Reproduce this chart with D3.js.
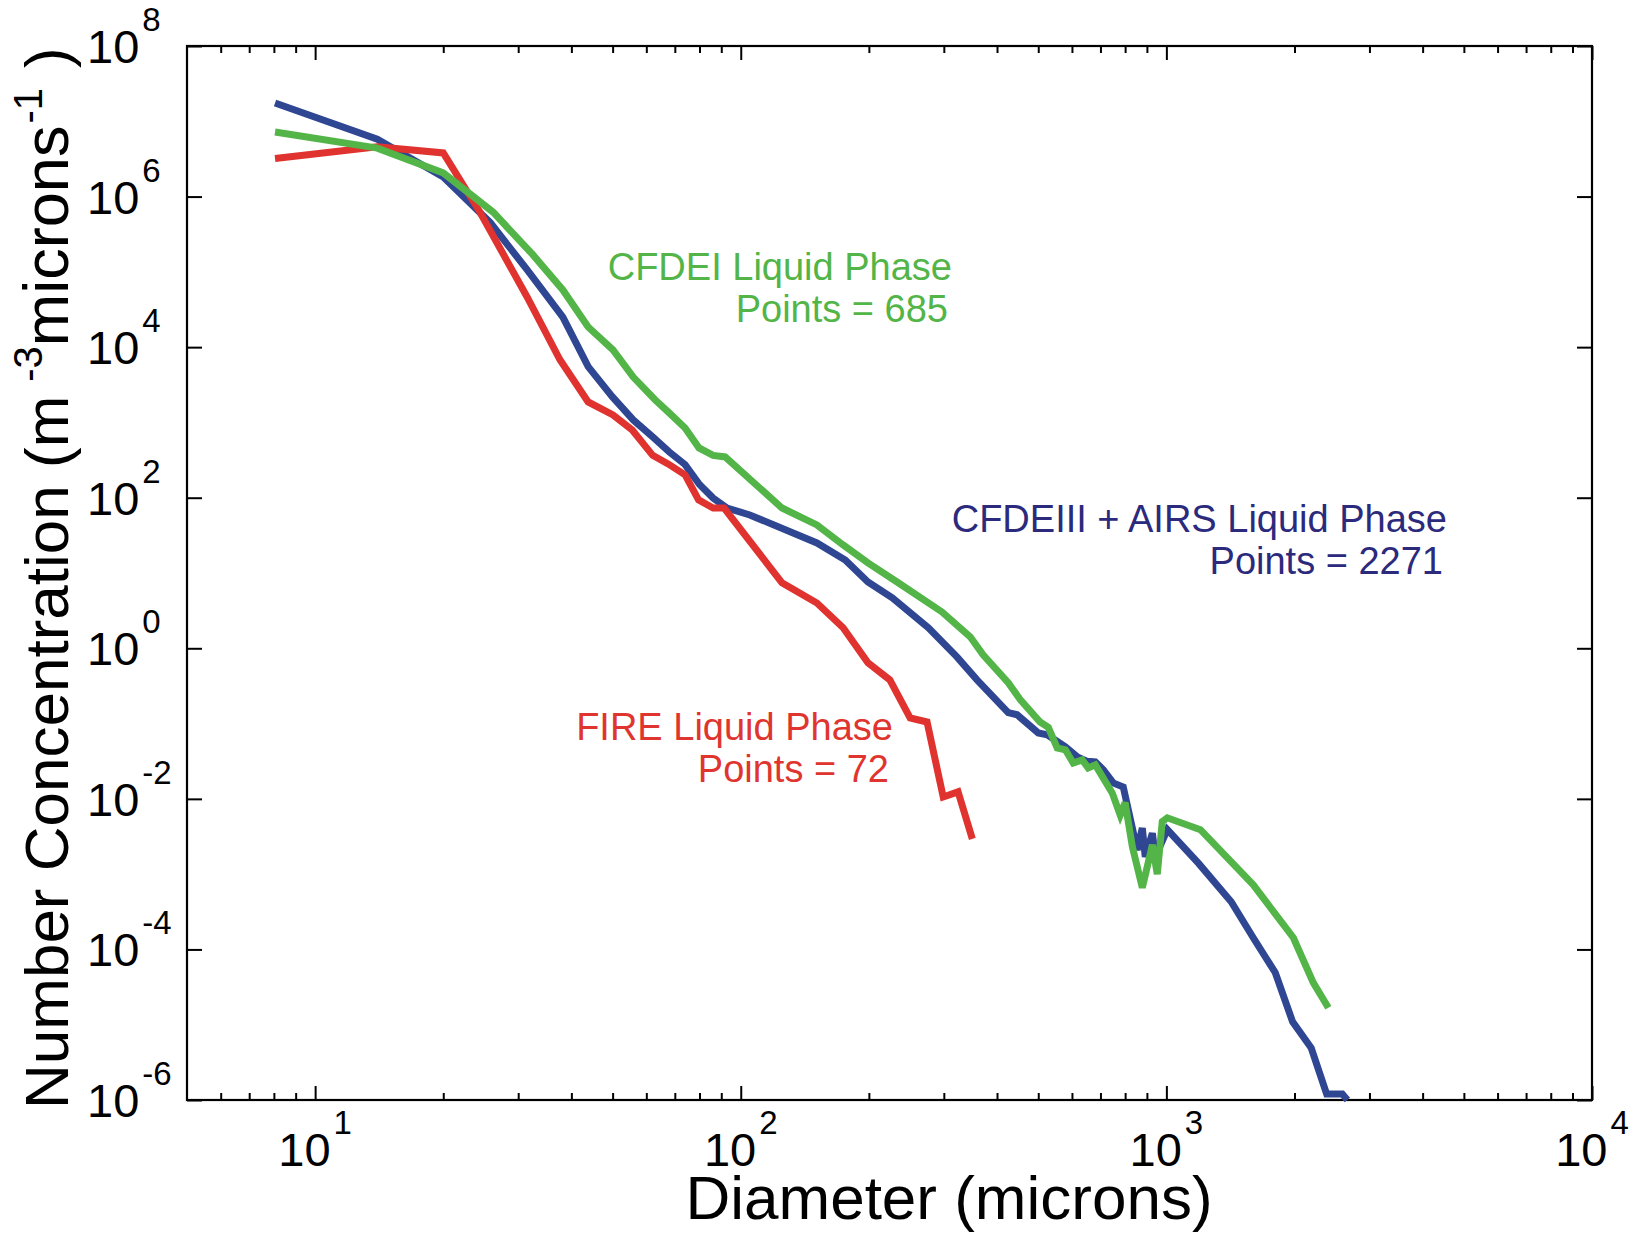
<!DOCTYPE html>
<html>
<head>
<meta charset="utf-8">
<script src="https://cdn.jsdelivr.net/npm/d3@7"></script>
<style>
    body { margin: 0; background: #fff; }
    svg { display: block; font-family: "Liberation Sans", Arial, Helvetica, sans-serif; }
</style>
</head>
<body>
<div id="chart"></div>
<script>
// FIRE liquid phase
const fireDiam = [8.05, 14, 20, 24.4, 31.5, 37.6, 43.8, 50.1, 55.6, 62.1, 67.5, 74, 79.6, 86.1, 91.4,
    125, 151, 174, 199, 224, 250, 274, 299, 324, 350];
const fireConc = [3.2e6, 4.6e6, 3.8e6, 6.2e5, 4.6e4, 6.8e3, 1.87e3, 1.26e3, 794, 365, 281, 201, 93.5, 73, 73,
    7.4, 4.0, 1.87, 0.64, 0.38, 0.119, 0.105, 0.0106, 0.0124, 0.00294];

// CFDEIII + AIRS liquid phase
const airsDiam = [8.05, 14, 20, 25.8, 31.5, 38.2, 43.8, 49.9, 55.9, 62.1, 67.9, 74, 80, 86.1, 92.9, 105,
    151, 176, 199, 227, 276, 322, 359, 425, 446, 500, 525, 579, 618, 652, 681, 711, 750, 792,
    854, 878, 892, 927, 942, 1005, 1189, 1420, 1600, 1803, 1980, 2190, 2380, 2590, 2663];
const airsConc = [1.75e7, 5.8e6, 1.82e6, 4.5e5, 1.06e5, 2.5e4, 5.5e3, 2.2e3, 1.08e3, 641, 406, 275, 150, 99, 73, 59,
    25.1, 14.9, 7.6, 4.67, 1.87, 0.77, 0.38, 0.14, 0.131, 0.075, 0.071, 0.049, 0.036, 0.0315, 0.031, 0.0243, 0.0163, 0.0144,
    0.0021, 0.0041, 0.0017, 0.0035, 0.0017, 0.0039, 0.0014, 4.3e-4, 1.43e-4, 4.9e-5, 1.09e-5, 4.9e-6, 1.2e-6, 1.2e-6, 1.0e-6];

// CFDEI liquid phase
const cfdeDiam = [8.05, 14, 20, 26.2, 32.5, 38.2, 43.8, 50.1, 55.9, 62.9, 67.9, 74, 79.8, 86.1, 91.9,
    125, 151, 174, 199, 233, 297, 346, 371, 425, 454, 505, 528, 554, 579, 604, 634, 655, 681,
    746, 779, 800, 832, 878, 927, 952, 978, 1005, 1202, 1600, 1988, 2215, 2402];
const cfdeConc = [7.2e6, 4.4e6, 2.06e6, 6.2e5, 1.68e5, 5.75e4, 1.85e4, 9.2e3, 4.0e3, 2.0e3, 1.34e3, 845, 458, 365, 348,
    73, 43.5, 23.6, 13.6, 7.6, 3.04, 1.42, 0.82, 0.35, 0.206, 0.105, 0.089, 0.0475, 0.0448, 0.030, 0.033, 0.0258, 0.0283,
    0.0120, 0.0061, 0.0089, 0.0023, 6.6e-4, 0.00245, 0.0010, 0.005, 0.0056, 0.0039, 7.2e-4, 1.43e-4, 3.6e-5, 1.68e-5];

const seriesNames = ['CFDEIII + AIRS Liquid Phase', 'FIRE Liquid Phase', 'CFDEI Liquid Phase'];
const seriesPoints = [2271, 72, 685];

const xTickExponents = [1, 2, 3, 4];
const yTickExponents = [8, 6, 4, 2, 0, -2, -4, -6];

class LogLinePlot {
    constructor(_config, _series) {
        this.config = {
            parentElement: _config.parentElement,
            containerWidth: _config.containerWidth || 1633,
            containerHeight: _config.containerHeight || 1233,
            margin: _config.margin || { top: 46, right: 41, bottom: 133, left: 187 }
        };
        this.series = _series;
        this.initVis();
    }

    initVis() {
        let vis = this;

        vis.width = vis.config.containerWidth - vis.config.margin.left - vis.config.margin.right;
        vis.height = vis.config.containerHeight - vis.config.margin.top - vis.config.margin.bottom;

        vis.svg = d3.select(vis.config.parentElement)
            .append('svg')
            .attr('width', vis.config.containerWidth)
            .attr('height', vis.config.containerHeight);

        vis.svg.append('rect')
            .attr('width', vis.config.containerWidth)
            .attr('height', vis.config.containerHeight)
            .attr('fill', '#fff');

        vis.chart = vis.svg.append('g')
            .attr('transform', `translate(${vis.config.margin.left},${vis.config.margin.top})`);

        vis.xScale = d3.scaleLog().domain([5, 1e4]).range([0, vis.width]);
        vis.yScale = d3.scaleLog().domain([1e-6, 1e8]).range([vis.height, 0]);

        vis.line = d3.line()
            .x(d => vis.xScale(d[0]))
            .y(d => vis.yScale(d[1]));
    }

    renderVis() {
        let vis = this;

        const majorX = xTickExponents.map(e => Math.pow(10, e));
        const minorX = vis.xScale.ticks().filter(v => Math.abs(Math.log10(v) - Math.round(Math.log10(v))) > 1e-6 && v > 5);
        const majorY = yTickExponents.map(e => Math.pow(10, e));

        const axisStyle = g => {
            g.select('.domain').remove();
            g.selectAll('line').attr('stroke', '#000').attr('stroke-width', 2);
        };

        // inward ticks on all four sides
        vis.chart.append('g').attr('transform', `translate(0,${vis.height})`)
            .call(d3.axisBottom(vis.xScale).tickValues(majorX).tickSize(-14).tickFormat(''))
            .call(axisStyle);
        vis.chart.append('g').attr('transform', `translate(0,${vis.height})`)
            .call(d3.axisBottom(vis.xScale).tickValues(minorX).tickSize(-7).tickFormat(''))
            .call(axisStyle);
        vis.chart.append('g')
            .call(d3.axisTop(vis.xScale).tickValues(majorX).tickSize(-14).tickFormat(''))
            .call(axisStyle);
        vis.chart.append('g')
            .call(d3.axisTop(vis.xScale).tickValues(minorX).tickSize(-7).tickFormat(''))
            .call(axisStyle);
        vis.chart.append('g')
            .call(d3.axisLeft(vis.yScale).tickValues(majorY).tickSize(-15).tickFormat(''))
            .call(axisStyle);
        vis.chart.append('g').attr('transform', `translate(${vis.width},0)`)
            .call(d3.axisRight(vis.yScale).tickValues(majorY).tickSize(-15).tickFormat(''))
            .call(axisStyle);

        vis.chart.append('rect')
            .attr('width', vis.width)
            .attr('height', vis.height)
            .attr('fill', 'none')
            .attr('stroke', '#000')
            .attr('stroke-width', 2.2);

        // x tick labels 10^n
        const xl = vis.chart.selectAll('.x-label')
            .data(xTickExponents)
            .join('text')
            .attr('class', 'x-label')
            .attr('x', d => vis.xScale(Math.pow(10, d)))
            .attr('y', vis.height + 66)
            .attr('text-anchor', 'middle')
            .attr('fill', '#000');
        xl.append('tspan').attr('font-size', 47).text('10');
        xl.append('tspan').attr('font-size', 33).attr('dx', 3).attr('dy', -32).text(d => d);

        // y tick labels 10^n
        const yl = vis.chart.selectAll('.y-label')
            .data(yTickExponents)
            .join('text')
            .attr('class', 'y-label')
            .attr('x', -100)
            .attr('y', d => vis.yScale(Math.pow(10, d)) + 17)
            .attr('fill', '#000');
        yl.append('tspan').attr('font-size', 47).text('10');
        yl.append('tspan').attr('font-size', 33).attr('dx', 3).attr('dy', -32).text(d => d);

        // lines
        vis.chart.selectAll('.series')
            .data(vis.series)
            .join('path')
            .attr('class', 'series')
            .attr('d', d => vis.line(d.values))
            .attr('fill', 'none')
            .attr('stroke', d => d.color)
            .attr('stroke-width', 7)
            .attr('stroke-linejoin', 'miter')
            .attr('stroke-miterlimit', 3);

        // annotations
        vis.series.forEach(s => {
            const t = vis.svg.append('text')
                .attr('text-anchor', 'end')
                .attr('fill', s.textColor)
                .attr('font-size', 38);
            t.append('tspan').attr('x', s.labelX).attr('y', s.labelY).text(s.name);
            t.append('tspan').attr('x', s.labelX - 4).attr('y', s.labelY + 42).text(`Points = ${s.points}`);
        });

        // axis titles
        vis.svg.append('text')
            .attr('x', 949)
            .attr('y', 1219)
            .attr('text-anchor', 'middle')
            .attr('font-size', 62)
            .attr('fill', '#000')
            .text('Diameter (microns)');

        const yt = vis.svg.append('text')
            .attr('transform', 'translate(68,1109) rotate(-90)')
            .attr('font-size', 62)
            .attr('fill', '#000');
        yt.append('tspan').text('Number Concentration (m');
        yt.append('tspan').attr('font-size', 40).attr('dx', 14).attr('dy', -26).text('-3');
        yt.append('tspan').attr('font-size', 63).attr('dy', 26).text('microns');
        yt.append('tspan').attr('font-size', 40).attr('dx', 2).attr('dy', -26).text('-1');
        yt.append('tspan').attr('font-size', 62).attr('dx', 20).attr('dy', 26).text(')');
    }
}

const toPairs = (xs, ys) => xs.map((x, i) => [x, ys[i]]);

const series = [
    { name: seriesNames[0], points: seriesPoints[0], values: toPairs(airsDiam, airsConc),
      color: '#2f4692', textColor: '#2b2a7c', labelX: 1447, labelY: 532 },
    { name: seriesNames[1], points: seriesPoints[1], values: toPairs(fireDiam, fireConc),
      color: '#e0332f', textColor: '#e0352f', labelX: 893, labelY: 740 },
    { name: seriesNames[2], points: seriesPoints[2], values: toPairs(cfdeDiam, cfdeConc),
      color: '#53b548', textColor: '#53b548', labelX: 952, labelY: 280 }
];

const plot = new LogLinePlot({ parentElement: '#chart' }, series);
plot.renderVis();
</script>
</body>
</html>
